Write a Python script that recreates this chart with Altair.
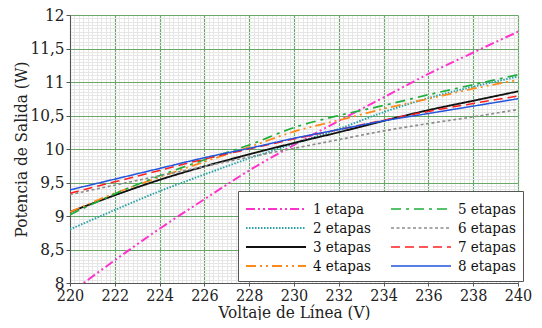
import altair as alt
import pandas as pd

# ---- data ----
voltaje = [220, 222, 224, 226, 228, 230, 232, 234, 236, 238, 240]

etapa_1 = [7.85, 8.34, 8.81, 9.25, 9.68, 10.06, 10.42, 10.77, 11.12, 11.44, 11.75]
etapa_2 = [8.80, 9.09, 9.37, 9.62, 9.86, 10.08, 10.30, 10.55, 10.76, 10.93, 11.08]
etapa_3 = [9.06, 9.31, 9.54, 9.74, 9.92, 10.09, 10.25, 10.42, 10.58, 10.72, 10.86]
etapa_4 = [9.06, 9.34, 9.58, 9.81, 10.03, 10.26, 10.43, 10.60, 10.75, 10.90, 11.03]
etapa_5 = [9.02, 9.33, 9.60, 9.84, 10.06, 10.32, 10.50, 10.65, 10.81, 10.96, 11.11]
etapa_6 = [9.32, 9.46, 9.60, 9.74, 9.88, 10.01, 10.14, 10.27, 10.38, 10.48, 10.59]
etapa_7 = [9.34, 9.51, 9.68, 9.85, 10.00, 10.15, 10.29, 10.43, 10.56, 10.68, 10.79]
etapa_8 = [9.39, 9.55, 9.71, 9.87, 10.01, 10.16, 10.29, 10.42, 10.53, 10.64, 10.75]

series_names = ["1 etapa", "2 etapas", "3 etapas", "4 etapas",
                "5 etapas", "6 etapas", "7 etapas", "8 etapas"]
series_values = [etapa_1, etapa_2, etapa_3, etapa_4,
                 etapa_5, etapa_6, etapa_7, etapa_8]

x_major = [220, 222, 224, 226, 228, 230, 232, 234, 236, 238, 240]
y_major = [8, 8.5, 9, 9.5, 10, 10.5, 11, 11.5, 12]
x_minor = [round(220 + 0.2 * i, 2) for i in range(101)]
y_minor = [round(8 + 0.05 * i, 2) for i in range(81)]

# ---- styles ----
colors = ["#ff33cc", "#2aa3a8", "#111111", "#ff8a1c",
          "#1fae3c", "#8c8c8c", "#ff2020", "#2254dd"]
dashes = [[9, 3, 2, 3, 2, 3], [1.5, 1.5], [1, 0], [10, 4, 2, 4, 2, 4],
          [10, 5, 3, 5], [3, 2.5], [9, 5], [1, 0]]
widths = [2, 1.5, 1.4, 2.5, 2.5, 3, 2, 2.5]

rows = []
for name, vals in zip(series_names, series_values):
    for v, p in zip(voltaje, vals):
        rows.append({"Voltaje": v, "Potencia": p, "Serie": name})
df = pd.DataFrame(rows)

FONT = "DejaVu Serif Condensed, DejaVu Serif"

W, H = 448, 268

xscale = alt.Scale(domain=[220, 240], nice=False, zero=False)
yscale = alt.Scale(domain=[8, 12], nice=False, zero=False)

minor = alt.Chart(df).mark_line(opacity=0).encode(
    x=alt.X("Voltaje:Q", scale=xscale,
            axis=alt.Axis(orient="top", values=x_minor, grid=True, gridColor="#e6e6e6",
                          gridWidth=1, labels=False, ticks=False, domain=False, title=None)),
    y=alt.Y("Potencia:Q", scale=yscale,
            axis=alt.Axis(orient="right", values=y_minor, grid=True, gridColor="#e6e6e6",
                          gridWidth=1, labels=False, ticks=False, domain=False, title=None)),
    detail="Serie:N",
)

legend_cfg = dict(title=None, orient="none", legendX=168, legendY=176,
                  columns=2, symbolType="M-1,0H5", symbolSize=400,
                  fillColor="white", strokeColor="#555", padding=7,
                  labelFont=FONT, labelFontSize=15, labelColor="#111",
                  columnPadding=16, rowPadding=-1, labelOffset=46)

lines = alt.Chart(df).mark_line(clip=True, interpolate="monotone").encode(
    x=alt.X("Voltaje:Q", scale=xscale,
            axis=alt.Axis(orient="bottom", values=x_major, grid=True, gridColor="#6aa86a",
                          gridWidth=1.2, title="Voltaje de Línea (V)", format="d",
                          tickSize=3, tickColor="#555", domainColor="#555",
                          labelPadding=1, labelFontSize=16,
                          labelFlush=False, labelOverlap=False,
                          titleX=W / 2, titleY=34, titleBaseline="alphabetic",
                          titleAlign="center")),
    y=alt.Y("Potencia:Q", scale=yscale,
            axis=alt.Axis(orient="left", values=y_major, grid=True, gridColor="#6aa86a",
                          gridWidth=1.2, title="Potencia de Salida (W)",
                          labelExpr="replace(format(datum.value, '~g'), '.', ',')",
                          tickSize=4, tickColor="#555", domainColor="#555",
                          labelPadding=2, labelFlush=False, labelOverlap=False,
                          titleX=-49, titleY=H / 2, titleAngle=270,
                          titleBaseline="middle", titleAlign="center")),
    color=alt.Color("Serie:N", scale=alt.Scale(domain=series_names, range=colors),
                    legend=alt.Legend(**legend_cfg)),
    strokeDash=alt.StrokeDash("Serie:N", scale=alt.Scale(domain=series_names, range=dashes),
                              legend=alt.Legend(**legend_cfg)),
    strokeWidth=alt.StrokeWidth("Serie:N", scale=alt.Scale(domain=series_names, range=widths),
                                legend=None),
)

chart = alt.layer(minor, lines).resolve_axis(x="independent", y="independent").properties(
    width=W, height=H,
    autosize=alt.AutoSizeParams(type="none"),
    padding={"left": 62, "top": 7, "right": 16, "bottom": 37},
).configure_view(stroke="#bdbdbd").configure_axis(
    labelFont=FONT, titleFont=FONT, labelFontSize=17, titleFontSize=17,
    labelColor="#222", titleColor="#222", titleFontWeight="normal",
)

chart.save("out.html", embed_options={"renderer": "svg", "actions": False})
